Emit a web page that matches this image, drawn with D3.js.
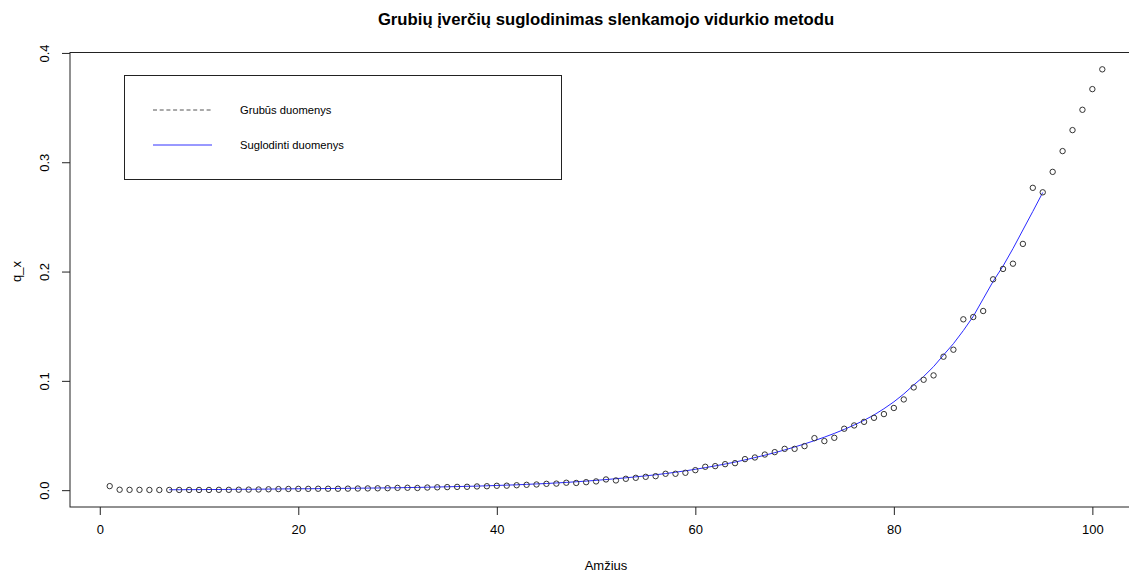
<!DOCTYPE html>
<html>
<head>
<meta charset="utf-8">
<script src="https://cdn.jsdelivr.net/npm/d3@7"></script>
<style>
  body { margin: 0; background: #fff; }
  text { font-family: "Liberation Sans", Arial, sans-serif; fill: #000; }
</style>
</head>
<body>
<div id="chart"></div>
<script>
// raw q_x values, ages 1..101
var ages = d3.range(1, 102);
var rawQx = [
  0.0037, 0.0004, 0.0003, 0.0003, 0.0002, 0.0002, 0.0002, 0.0002, 0.0002, 0.0002,
  0.0002, 0.0003, 0.0003, 0.0004, 0.0005, 0.0006, 0.0008, 0.0010, 0.0011, 0.0012,
  0.0012, 0.0013, 0.0013, 0.0013, 0.0014, 0.0015, 0.0016, 0.0017, 0.0018, 0.0021,
  0.0022, 0.0020, 0.0024, 0.0026, 0.0028, 0.0030, 0.0031, 0.0034, 0.0036, 0.0040,
  0.0041, 0.0045, 0.0049, 0.0052, 0.0058, 0.0060, 0.0068, 0.0066, 0.0073, 0.0080,
  0.0098, 0.0089, 0.0104, 0.0113, 0.0122, 0.0128, 0.0150, 0.0150, 0.0159, 0.0183,
  0.0214, 0.0220, 0.0238, 0.0247, 0.0284, 0.0299, 0.0326, 0.0348, 0.0378, 0.0378,
  0.0403, 0.0476, 0.0449, 0.0479, 0.0562, 0.0592, 0.0625, 0.0662, 0.0696, 0.0752,
  0.0830, 0.0940, 0.1010, 0.1050, 0.1221, 0.1285, 0.1563, 0.1584, 0.1639, 0.1929,
  0.2024, 0.2072, 0.2253, 0.2766, 0.2725, 0.2912, 0.3102, 0.3294, 0.3480, 0.3669,
  0.3850
];

// smoothed values, ages 7..95
var smoothAges = d3.range(7, 96);
var smoothQx = [
  0.0004, 0.0004, 0.0005, 0.0005, 0.0006, 0.0006, 0.0007, 0.0008, 0.0008, 0.0009,
  0.0010, 0.0011, 0.0012, 0.0013, 0.0013, 0.0014, 0.0015, 0.0016, 0.0017, 0.0018,
  0.0019, 0.0020, 0.0021, 0.0022, 0.0024, 0.0025, 0.0027, 0.0029, 0.0031, 0.0033,
  0.0035, 0.0037, 0.0040, 0.0043, 0.0046, 0.0049, 0.0053, 0.0057, 0.0061, 0.0066,
  0.0071, 0.0077, 0.0083, 0.0090, 0.0097, 0.0105, 0.0113, 0.0122, 0.0131, 0.0141,
  0.0152, 0.0164, 0.0177, 0.0191, 0.0206, 0.0222, 0.0239, 0.0257, 0.0277, 0.0298,
  0.0320, 0.0343, 0.0368, 0.0395, 0.0423, 0.0453, 0.0485, 0.0519, 0.0556, 0.0596,
  0.0639, 0.0688, 0.0745, 0.0808, 0.0880, 0.0962, 0.1040, 0.1130, 0.1236, 0.1340,
  0.1460, 0.1590, 0.1750, 0.1910, 0.2050, 0.2210, 0.2380, 0.2550, 0.2723
];

var xTicks = [0, 20, 40, 60, 80, 100];
var yTicks = [0.0, 0.1, 0.2, 0.3, 0.4];
var legendLabels = ["Grubūs duomenys", "Suglodinti duomenys"];

var width = 1129, height = 572;
var margin = { top: 52.5, right: -13, bottom: 65, left: 70 };

var svg = d3.select("#chart")
    .append("svg")
    .attr("width", width)
    .attr("height", height);

var x = d3.scaleLinear()
    .domain([-3, 105])
    .range([margin.left, width - margin.right]);

var y = d3.scaleLinear()
    .domain([-0.0154, 0.4004])
    .range([height - margin.bottom, margin.top]);

// plot box
svg.append("rect")
    .attr("x", x(-3))
    .attr("y", y(0.4004))
    .attr("width", x(105) - x(-3))
    .attr("height", y(-0.0154) - y(0.4004))
    .attr("fill", "none")
    .attr("stroke", "#222")
    .attr("stroke-width", 1);

// x axis
var xAxis = svg.append("g")
    .attr("transform", "translate(0," + y(-0.0154) + ")")
    .call(d3.axisBottom(x).tickValues(xTicks).tickSize(8).tickPadding(10).tickFormat(d3.format("d")));
xAxis.select(".domain").remove();
xAxis.selectAll("line").attr("stroke", "#222");
xAxis.selectAll("text").style("font-size", "13px").style("font-family", "Liberation Sans, Arial, sans-serif").attr("fill", "#222");

// y axis, labels rotated like base R
var yAxis = svg.append("g")
    .attr("transform", "translate(" + x(-3) + ",0)")
    .call(d3.axisLeft(y).tickValues(yTicks).tickSize(8).tickFormat(d3.format(".1f")));
yAxis.select(".domain").remove();
yAxis.selectAll("line").attr("stroke", "#222");
yAxis.selectAll("text")
    .style("font-size", "13px")
    .style("font-family", "Liberation Sans, Arial, sans-serif")
    .attr("fill", "#222")
    .attr("x", null).attr("dy", null)
    .attr("text-anchor", "middle")
    .attr("transform", "translate(-21,0) rotate(-90)")
    .attr("y", 0);

// smoothed line
var line = d3.line()
    .x(function (d, i) { return x(smoothAges[i]); })
    .y(function (d) { return y(d); });

svg.append("path")
    .datum(smoothQx)
    .attr("d", line)
    .attr("fill", "none")
    .attr("stroke", "#2a2aff")
    .attr("stroke-width", 1);

// raw points
svg.selectAll(".pt")
    .data(rawQx)
    .enter()
    .append("circle")
    .attr("cx", function (d, i) { return x(ages[i]); })
    .attr("cy", function (d) { return y(d); })
    .attr("r", 2.7)
    .attr("fill", "none")
    .attr("stroke", "#333")
    .attr("stroke-width", 1);

// title and axis labels
svg.append("text")
    .attr("x", 606)
    .attr("y", 25)
    .attr("text-anchor", "middle")
    .style("font-size", "16.7px")
    .style("font-weight", "bold")
    .text("Grubių įverčių suglodinimas slenkamojo vidurkio metodu");

svg.append("text")
    .attr("x", 606)
    .attr("y", 570)
    .attr("text-anchor", "middle")
    .style("font-size", "13px")
    .attr("fill", "#222")
    .text("Amžius");

svg.append("text")
    .attr("transform", "translate(21," + y(0.2) + ") rotate(-90)")
    .attr("text-anchor", "middle")
    .style("font-size", "13px")
    .attr("fill", "#222")
    .text("q_x");

// legend
var legend = svg.append("g");
legend.append("rect")
    .attr("x", 124.5).attr("y", 75.5)
    .attr("width", 437).attr("height", 104)
    .attr("fill", "#fff")
    .attr("stroke", "#222");

var legendStyles = [
    { color: "#555", dash: "4,2.7" },
    { color: "#3333ff", dash: null }
];
legendLabels.forEach(function (lab, i) {
    var ly = 110 + i * 35;
    legend.append("line")
        .attr("x1", 153).attr("x2", 212)
        .attr("y1", ly).attr("y2", ly)
        .attr("stroke", legendStyles[i].color)
        .attr("stroke-width", 1)
        .attr("stroke-dasharray", legendStyles[i].dash);
    legend.append("text")
        .attr("x", 240)
        .attr("y", ly + 4)
        .style("font-size", "11.2px")
        .text(lab);
});
</script>
</body>
</html>
